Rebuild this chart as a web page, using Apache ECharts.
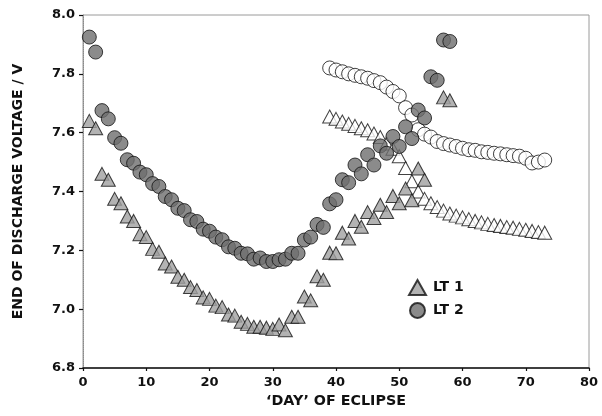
<!DOCTYPE html>
<html><head><meta charset="utf-8">
<script src="https://cdn.jsdelivr.net/npm/echarts@6/dist/echarts.min.js"></script>
<style>html,body{margin:0;padding:0;background:#fff}#c{width:602px;height:416px}</style>
</head><body><div id="c"></div>
<script>
var xTicks = [0,10,20,30,40,50,60,70,80];
var yTicks = ['6.8','7.0','7.2','7.4','7.6','7.8','8.0'];

var lt1Days = [1,2,3,4,5,6,7,8,9,10,11,12,13,14,15,16,17,18,19,20,21,22,23,24,25,26,27,28,29,30,31,32,33,34,35,36,37,38,39,40,41,42,43,44,45,46,47,48,49,50,51,52,53,54,57,58];
var lt1Vals = [7.64,7.615,7.46,7.44,7.375,7.36,7.315,7.30,7.255,7.245,7.205,7.195,7.155,7.145,7.11,7.10,7.075,7.065,7.04,7.035,7.012,7.007,6.982,6.978,6.957,6.95,6.94,6.94,6.937,6.933,6.948,6.928,6.974,6.974,7.043,7.03,7.112,7.10,7.192,7.19,7.26,7.24,7.30,7.28,7.33,7.31,7.355,7.33,7.385,7.36,7.41,7.37,7.478,7.44,7.72,7.71];

var lt2Days = [1,2,3,4,5,6,7,8,9,10,11,12,13,14,15,16,17,18,19,20,21,22,23,24,25,26,27,28,29,30,31,32,33,34,35,36,37,38,39,40,41,42,43,44,45,46,47,48,49,50,51,52,53,54,55,56,57,58];
var lt2Vals = [7.925,7.874,7.675,7.647,7.583,7.564,7.508,7.496,7.466,7.457,7.427,7.417,7.383,7.372,7.343,7.335,7.304,7.298,7.272,7.265,7.245,7.236,7.212,7.207,7.19,7.188,7.17,7.174,7.162,7.162,7.168,7.17,7.19,7.19,7.235,7.245,7.288,7.278,7.358,7.372,7.44,7.43,7.49,7.46,7.525,7.49,7.555,7.53,7.587,7.553,7.62,7.58,7.677,7.65,7.79,7.778,7.915,7.91];

var openDays = [39,40,41,42,43,44,45,46,47,48,49,50,51,52,53,54,55,56,57,58,59,60,61,62,63,64,65,66,67,68,69,70,71,72,73];
var lt1OpenVals = [7.655,7.647,7.638,7.63,7.623,7.615,7.608,7.597,7.585,7.563,7.545,7.52,7.48,7.435,7.40,7.375,7.36,7.347,7.335,7.325,7.318,7.312,7.306,7.30,7.295,7.29,7.286,7.283,7.279,7.277,7.273,7.27,7.266,7.262,7.26];
var lt2OpenVals = [7.82,7.813,7.807,7.80,7.795,7.79,7.785,7.777,7.77,7.755,7.74,7.725,7.685,7.66,7.61,7.595,7.585,7.57,7.563,7.558,7.553,7.547,7.542,7.54,7.535,7.533,7.53,7.528,7.525,7.522,7.52,7.513,7.497,7.50,7.507];

function pairs(d, v){ return d.map(function(x,i){ return [x, v[i]]; }); }

var FONT = 'DejaVu Sans';
var chart = echarts.init(document.getElementById('c'), null, {renderer:'canvas'});
chart.setOption({
  animation: false,
  backgroundColor: '#fff',
  grid: {left: 83, right: 13, top: 15, bottom: 48, show: true, borderColor: '#9a9a9a', borderWidth: 1, backgroundColor: 'transparent'},
  legend: {
    data: ['LT 1', 'LT 2'], orient: 'vertical', left: 403, top: 274,
    itemWidth: 17, itemHeight: 15, itemGap: 6,
    textStyle: {fontFamily: FONT, fontWeight: 'bold', fontSize: 14, color: '#111', padding: [0,0,0,2]}
  },
  xAxis: {
    type: 'value', min: 0, max: 80, interval: 10,
    name: '\u2018DAY\u2019 OF ECLIPSE', nameLocation: 'middle', nameGap: 24,
    nameTextStyle: {fontFamily: FONT, fontWeight: 'bold', fontSize: 14.3, color: '#111'},
    axisLine: {lineStyle: {color: '#111', width: 1.5}},
    axisTick: {show: true, length: 3, lineStyle: {color: '#111', width: 1.2}},
    axisLabel: {margin: 8, fontFamily: FONT, fontWeight: 'bold', fontSize: 13, color: '#111',
      formatter: function(v){ return xTicks.indexOf(v) >= 0 ? String(v) : ''; }},
    splitLine: {show: false}
  },
  yAxis: {
    type: 'value', min: 6.8, max: 8.0, interval: 0.2,
    name: 'END OF DISCHARGE VOLTAGE / V', nameLocation: 'middle', nameGap: 58, nameRotate: 90,
    nameTextStyle: {fontFamily: FONT, fontWeight: 'bold', fontSize: 14, color: '#111'},
    axisLine: {lineStyle: {color: '#8a8a8a', width: 1, type: 'dotted'}},
    axisTick: {show: true, length: 4, lineStyle: {color: '#111', width: 1.2}},
    axisLabel: {margin: 8, fontFamily: FONT, fontWeight: 'bold', fontSize: 13, color: '#111',
      formatter: function(v){ var s = v.toFixed(1); return yTicks.indexOf(s) >= 0 ? s : ''; }},
    splitLine: {show: false}
  },
  series: [
    {name: 'LT 2 open', type: 'scatter', data: pairs(openDays, lt2OpenVals), symbol: 'circle', symbolSize: 14,
      itemStyle: {color: '#ffffff', borderColor: '#111', borderWidth: 1}, z: 2},
    {name: 'LT 1 open', type: 'scatter', data: pairs(openDays, lt1OpenVals), symbol: 'triangle', symbolSize: [14, 13],
      itemStyle: {color: '#ffffff', borderColor: '#111', borderWidth: 1}, z: 2},
    {name: 'LT 1', type: 'scatter', data: pairs(lt1Days, lt1Vals), symbol: 'triangle', symbolSize: [14, 13],
      itemStyle: {color: '#a0a0a0', borderColor: '#111', borderWidth: 1}, z: 3},
    {name: 'LT 2', type: 'scatter', data: pairs(lt2Days, lt2Vals), symbol: 'circle', symbolSize: 14,
      itemStyle: {color: '#6e6e6e', borderColor: '#111', borderWidth: 1}, z: 3}
  ]
});
</script></body></html>
